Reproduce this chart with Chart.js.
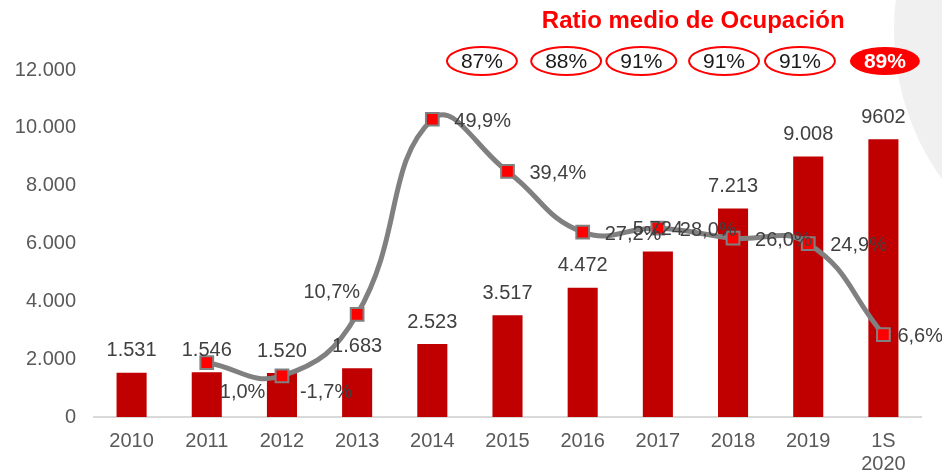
<!DOCTYPE html>
<html>
<head>
<meta charset="utf-8">
<script src="https://cdn.jsdelivr.net/npm/chart.js@4/dist/chart.umd.min.js"></script>
<style>
  html, body { margin: 0; padding: 0; background: #fff; }
  #wrap { width: 942px; height: 473px; position: relative; }
</style>
</head>
<body>
<div id="wrap"><canvas id="myChart" width="942" height="473"></canvas></div>
<script>
let years = ['2010', '2011', '2012', '2013', '2014', '2015', '2016', '2017', '2018', '2019', ['1S', '2020']];
let plazas = [1531, 1546, 1520, 1683, 2523, 3517, 4472, 5724, 7213, 9008, 9602];
let growth = [null, 1.0, -1.7, 10.7, 49.9, 39.4, 27.2, 28.0, 26.0, 24.9, 6.6];
let yTicks = [0, 2000, 4000, 6000, 8000, 10000, 12000];

let ocupTitle = 'Ratio medio de Ocupación';
let ocupacion = ['87%', '88%', '91%', '91%', '91%', '89%'];

const FONT = "'Liberation Sans', Arial, sans-serif";

function miles(v) {
    return String(v).replace(/\B(?=(\d{3})+(?!\d))/g, '.');
}

// gray slide decoration on the right
const backdrop = {
    id: 'backdrop',
    beforeDraw(chart) {
        const ctx = chart.ctx;
        ctx.save();
        ctx.fillStyle = '#f0f0f0';
        ctx.beginPath();
        ctx.arc(1150, 30, 256, 0, Math.PI * 2);
        ctx.fill();
        ctx.restore();
    }
};

const valueLabels = {
    id: 'valueLabels',
    afterDatasetsDraw(chart) {
        const ctx = chart.ctx;
        ctx.save();
        ctx.font = '20px ' + FONT;
        ctx.fillStyle = '#404040';

        // bar values
        const bars = chart.getDatasetMeta(1).data;
        ctx.textAlign = 'center';
        ctx.textBaseline = 'middle';
        bars.forEach((b, i) => {
            const v = plazas[i];
            const txt = i === plazas.length - 1 ? String(v) : miles(v);
            ctx.fillText(txt, b.x, b.y - 22);
        });

        // growth labels, mostly right of the point
        const shift = { 1: [13, 30, 'left'], 2: [18, 17, 'left'], 3: [3, -22, 'right'], 10: [14, 2, 'left'] };
        const pts = chart.getDatasetMeta(0).data;
        pts.forEach((p, i) => {
            if (growth[i] === null) return;
            const s = shift[i] || [22, 2, 'left'];
            ctx.textAlign = s[2];
            ctx.fillText(growth[i].toFixed(1).replace('.', ',') + '%', p.x + s[0], p.y + s[1]);
        });
        ctx.restore();
    }
};

const ocupHeader = {
    id: 'ocupHeader',
    afterDraw(chart) {
        const ctx = chart.ctx;
        const x = chart.scales.x;
        const x0 = x.getPixelForValue(0);
        const step = x.getPixelForValue(1) - x0;
        ctx.save();
        ctx.fillStyle = '#ff0000';
        ctx.font = 'bold 24px ' + FONT;
        ctx.textAlign = 'center';
        ctx.textBaseline = 'middle';
        ctx.fillText(ocupTitle, x0 + 7.47 * step, 21);

        const pos = [4.66, 5.78, 6.78, 7.88, 8.89, 10.02];
        ocupacion.forEach((t, i) => {
            const cx = x0 + pos[i] * step;
            const last = i === ocupacion.length - 1;
            ctx.beginPath();
            ctx.ellipse(cx, 61, 35, 14, 0, 0, Math.PI * 2);
            if (last) {
                ctx.fillStyle = '#ff0000';
                ctx.fill();
            } else {
                ctx.strokeStyle = '#ff0000';
                ctx.lineWidth = 2;
                ctx.stroke();
            }
            ctx.font = (last ? 'bold ' : '') + '21px ' + FONT;
            ctx.fillStyle = last ? '#ffffff' : '#1a1a1a';
            ctx.fillText(t, cx, 62);
        });
        ctx.restore();
    }
};

let ctx = document.getElementById('myChart').getContext('2d');

let chart = new Chart(ctx, {
    type: 'bar',
    data: {
        labels: years,
        datasets: [{
            type: 'line',
            data: growth,
            yAxisID: 'y1',
            borderColor: '#808080',
            borderWidth: 5,
            tension: 0.45,
            pointStyle: 'rect',
            pointRadius: 9,
            pointBackgroundColor: '#ff0000',
            pointBorderColor: '#808080',
            pointBorderWidth: 2,
            order: 0
        }, {
            data: plazas,
            backgroundColor: '#c00000',
            barPercentage: 0.4,
            categoryPercentage: 1,
            order: 1
        }]
    },
    options: {
        responsive: false,
        animation: false,
        layout: { padding: { top: 70, right: 21, bottom: 0, left: 0 } },
        plugins: {
            legend: { display: false },
            tooltip: { enabled: false }
        },
        scales: {
            x: {
                grid: { display: false },
                border: { color: '#d9d9d9', width: 2 },
                ticks: { color: '#595959', font: { family: FONT, size: 20, lineHeight: 1.15 }, padding: 5, maxRotation: 0 },
                afterFit: s => { s.height = 56; }
            },
            y: {
                min: 0,
                max: 12000,
                grid: { display: false },
                border: { display: false },
                afterBuildTicks: s => { s.ticks = yTicks.map(v => ({ value: v })); },
                ticks: {
                    color: '#595959',
                    font: { family: FONT, size: 20 },
                    padding: 10,
                    callback: v => miles(v)
                },
                afterFit: s => { s.width = 94; }
            },
            y1: {
                display: false,
                min: -9.95,
                max: 59.8
            }
        }
    },
    plugins: [backdrop, valueLabels, ocupHeader]
});
</script>
</body>
</html>
